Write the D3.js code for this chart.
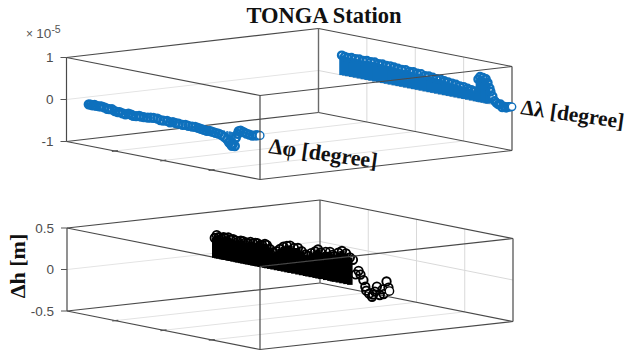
<!DOCTYPE html>
<html>
<head>
<meta charset="utf-8">
<script src="https://cdn.jsdelivr.net/npm/d3@7"></script>
<style>
  html, body { margin: 0; padding: 0; background: #fff; }
  svg { display: block; }
</style>
</head>
<body>
<svg id="chart"></svg>
<script>
// values, pos = position along the long axis (0..1)
const phiPos = [.115,.125,.135,.145,.155,.17,.18,.195,.21,.22,.235,.25,.265,.275,.29,.305,.32,.335,.345,.36,.375,.385,.4,.42,.435,.45,.47,.485,.5,.52,.535,.55,.565,.58,.6,.615,.63,.65,.665,.68,.695,.71,.725,.74,.755,.77,.785,.8,.815,.83,.84,.85,.855,.87,.86,.845,.875,.885,.89,.9,.915,.93,.945,.96,.975,.985,1];
const phiVal = [-.01,-.01,-.02,0,-.01,-.01,0,-.01,-.03,-.03,-.02,-.05,-.06,-.05,-.07,-.08,-.05,-.06,-.08,-.07,-.05,-.06,-.06,-.05,-.04,-.03,-.03,-.05,-.05,-.04,-.06,-.04,-.05,-.05,-.06,-.05,-.06,-.06,-.05,-.06,-.07,-.08,-.09,-.08,-.09,-.1,-.1,-.12,-.15,-.2,-.26,-.3,-.33,-.32,-.27,-.22,-.12,-.02,.05,.07,.05,.03,.02,.01,.03,.04,.05];
const lambdaPos = [.12,.135,.15,.17,.19,.21,.23,.25,.27,.29,.31,.33,.35,.37,.39,.41,.43,.45,.47,.49,.51,.53,.55,.57,.59,.61,.63,.65,.67,.69,.71,.73,.75,.77,.79,.81,.825,.835,.85,.865,.875,.885,.89,.9,.91,.92,.93,.94,.95,.96,.97,.98,.99,1];
const lambdaVal = [.47,.45,.44,.46,.45,.46,.44,.46,.45,.46,.44,.45,.43,.44,.43,.42,.41,.42,.4,.41,.39,.4,.37,.38,.37,.35,.36,.34,.33,.32,.31,.29,.29,.27,.25,.24,.54,.61,.6,.58,.5,.38,.3,.2,.1,.06,.03,.05,-.02,.01,-.01,.02,.03,.04];
const heightPos = [.08,.09,.1,.115,.125,.133,.15,.16,.175,.19,.2,.215,.226,.24,.25,.265,.278,.29,.3,.315,.325,.34,.35,.365,.382,.4,.418,.436,.454,.47,.49,.511,.53,.55,.563,.58,.6,.615,.63,.655,.677,.69,.7,.72,.739,.76,.78,.796,.81,.825,.835,.85,.86,.865,.88,.895,.9,.91,.92,.935,.95,.955,.97,.98,.985];
const heightVal = [.24,.28,.26,.25,.27,.265,.28,.26,.27,.26,.25,.27,.27,.26,.26,.28,.27,.28,.28,.26,.27,.29,.28,.24,.21,.23,.265,.3,.32,.33,.31,.32,.29,.26,.25,.29,.32,.35,.32,.34,.35,.32,.31,.36,.39,.37,.33,.31,.14,.19,.15,.09,.015,-.03,-.06,-.09,-.06,-.02,.045,-.05,.025,-.03,.13,.06,.02];
const latTicks = [.25, .5, .75];
const blueTicks = [-1, 0, 1];
const blueTickLabels = ["-1", "0", "1"];
const blackTicks = [-.5, 0, .5];
const blackTickLabels = ["-0.5", "0", "0.5"];

const blue = "#1170bd";
const svg = d3.select("#chart").attr("width", 628).attr("height", 351);

const defs = svg.append("defs");
defs.append("filter").attr("id", "soft")
  .append("feGaussianBlur").attr("stdDeviation", 0.45);

function drawPanel(gc) {
  const uScale = d3.scaleLinear().domain([0, 1]).range([0, 1]);
  const vScale = d3.scaleLinear().domain([0, 1]).range([0, 1]);
  const zScale = d3.scaleLinear().domain(gc.zDomain).range([0, gc.zHeight]);
  const [zMin, zMax] = gc.zDomain;

  const project = (u, v, z) => [
    gc.ox + uScale(u) * gc.ux + vScale(v) * gc.vx,
    gc.oy + uScale(u) * gc.uy + vScale(v) * gc.vy - zScale(z)
  ];

  const g = svg.append("g").attr("filter", "url(#soft)");

  const segment = (parent, a, b, stroke, width) => parent.append("line")
    .attr("x1", a[0]).attr("y1", a[1])
    .attr("x2", b[0]).attr("y2", b[1])
    .attr("stroke", stroke)
    .attr("stroke-width", width);

  // grid on floor and walls
  const grid = "#d9d9d9";
  latTicks.forEach(t => {
    segment(g, project(t, 0, zMin), project(t, 1, zMin), "#e2e2e2", 1);
    segment(g, project(t, 1, zMin), project(t, 1, zMax), grid, 1);
  });
  segment(g, project(0, 0, 0), project(0, 1, 0), "#e4e4e4", 1);
  segment(g, project(0, 1, 0), project(1, 1, 0), grid, 1);

  // edges behind the data
  const edge = "#4a4a4a";
  segment(g, project(0, 0, zMin), project(0, 1, zMin), edge, 1.2);
  segment(g, project(0, 1, zMin), project(1, 1, zMin), edge, 1.2);
  segment(g, project(0, 1, zMin), project(0, 1, zMax), "#6a6a6a", 1.4);
  segment(g, project(0, 0, zMin), project(1, 0, zMin), edge, 1.2);
  segment(g, project(1, 0, zMin), project(1, 1, zMin), edge, 1.2);
  segment(g, project(0, 0, zMin), project(0, 0, zMax), edge, 1.2);
  segment(g, project(1, 1, zMin), project(1, 1, zMax), edge, 1.2);
  segment(g, project(0, 0, zMax), project(0, 1, zMax), edge, 1.2);
  segment(g, project(0, 1, zMax), project(1, 1, zMax), edge, 1.2);
  segment(g, project(0, 0, zMax), project(1, 0, zMax), edge, 1.2);

  // tick marks
  latTicks.forEach(t => {
    segment(g, project(t, -.012, zMin), project(t, .012, zMin), "#555", 1.2);
  });
  gc.zTicks.forEach(t => {
    const p = project(0, 0, t);
    segment(g, [p[0] - 6, p[1]], p, "#555", 1);
  });

  // stems and markers
  gc.series.forEach(s => {
    const points = s.pos.map((p, i) => ({ p: p, z: s.val[i] }));
    const last = points.length - 1;
    const marks = g.append("g");
    marks.selectAll("line")
      .data(points.filter(d => d.p <= s.stemEnd))
      .join("line")
        .attr("x1", d => project(d.p, s.v, 0)[0])
        .attr("y1", d => project(d.p, s.v, 0)[1])
        .attr("x2", d => project(d.p, s.v, d.z)[0])
        .attr("y2", d => project(d.p, s.v, d.z)[1])
        .attr("stroke", s.color)
        .attr("stroke-width", s.stem);
    marks.selectAll("circle")
      .data(points)
      .join("circle")
        .attr("cx", d => project(d.p, s.v, d.z)[0])
        .attr("cy", d => project(d.p, s.v, d.z)[1])
        .attr("r", s.r)
        .attr("fill", (d, i) => i === last ? "#fff" : "none")
        .attr("stroke", s.color)
        .attr("stroke-width", (d, i) => i === last ? 1.4 : s.width);
  });

  // edges in front of the data
  segment(g, project(1, 0, zMin), project(1, 0, zMax), edge, 1.2);
  segment(g, project(1, 0, zMax), project(1, 1, zMax), edge, 1.2);

  const labels = svg.append("g")
    .attr("font-family", "'Liberation Sans', Arial, sans-serif")
    .attr("font-size", 13.5)
    .attr("fill", "#4d4d4d")
    .attr("text-anchor", "end");
  gc.zTicks.forEach((t, i) => {
    const p = project(0, 0, t);
    labels.append("text")
      .attr("x", p[0] - 13)
      .attr("y", p[1] + 4.5)
      .text(gc.zLabels[i]);
  });
}

drawPanel({
  ox: 66.5, oy: 141.5, ux: 193.5, uy: 38, vx: 252, vy: -29,
  zHeight: 84, zDomain: [-1, 1],
  zTicks: blueTicks, zLabels: blueTickLabels,
  series: [
    { pos: phiPos, val: phiVal, v: 0, color: blue, r: 3.9, width: 2.5, stem: 1.5, stemEnd: 1 },
    { pos: lambdaPos, val: lambdaVal, v: 1, color: blue, r: 3.7, width: 2.4, stem: 5, stemEnd: .88 }
  ]
});

drawPanel({
  ox: 67, oy: 311, ux: 193, uy: 38.5, vx: 253, vy: -28,
  zHeight: 83, zDomain: [-.5, .5],
  zTicks: blackTicks, zLabels: blackTickLabels,
  series: [
    { pos: heightPos, val: heightVal, v: .523, color: "#060606", r: 4.2, width: 1.9, stem: 5.5, stemEnd: .78 }
  ]
});

// exponent label
const exponent = svg.append("text")
  .attr("x", 26).attr("y", 38)
  .attr("font-family", "'Liberation Sans', Arial, sans-serif")
  .attr("fill", "#555");
exponent.append("tspan").attr("font-size", 12).text("× ");
exponent.append("tspan").attr("font-size", 13.5).text("10");
exponent.append("tspan").attr("font-size", 10.5).attr("dy", -5).text("-5");

const serif = "'Liberation Serif', 'Times New Roman', serif";

svg.append("text")
  .attr("x", 324).attr("y", 23)
  .attr("text-anchor", "middle")
  .attr("font-family", serif)
  .attr("font-weight", "bold")
  .attr("font-size", 22.5)
  .attr("fill", "#111")
  .text("TONGA Station");

svg.append("text")
  .attr("transform", "translate(268,153) rotate(8)")
  .attr("font-family", serif)
  .attr("font-weight", "bold")
  .attr("font-size", 22)
  .attr("fill", "#111")
  .text("Δφ [degree]");

svg.append("text")
  .attr("transform", "translate(520,114) rotate(8)")
  .attr("font-family", serif)
  .attr("font-weight", "bold")
  .attr("font-size", 21.5)
  .attr("fill", "#111")
  .text("Δλ [degree]");

svg.append("text")
  .attr("transform", "translate(25,266) rotate(-90)")
  .attr("text-anchor", "middle")
  .attr("font-family", serif)
  .attr("font-weight", "bold")
  .attr("font-size", 22)
  .attr("fill", "#111")
  .text("Δh [m]");
</script>
</body>
</html>
